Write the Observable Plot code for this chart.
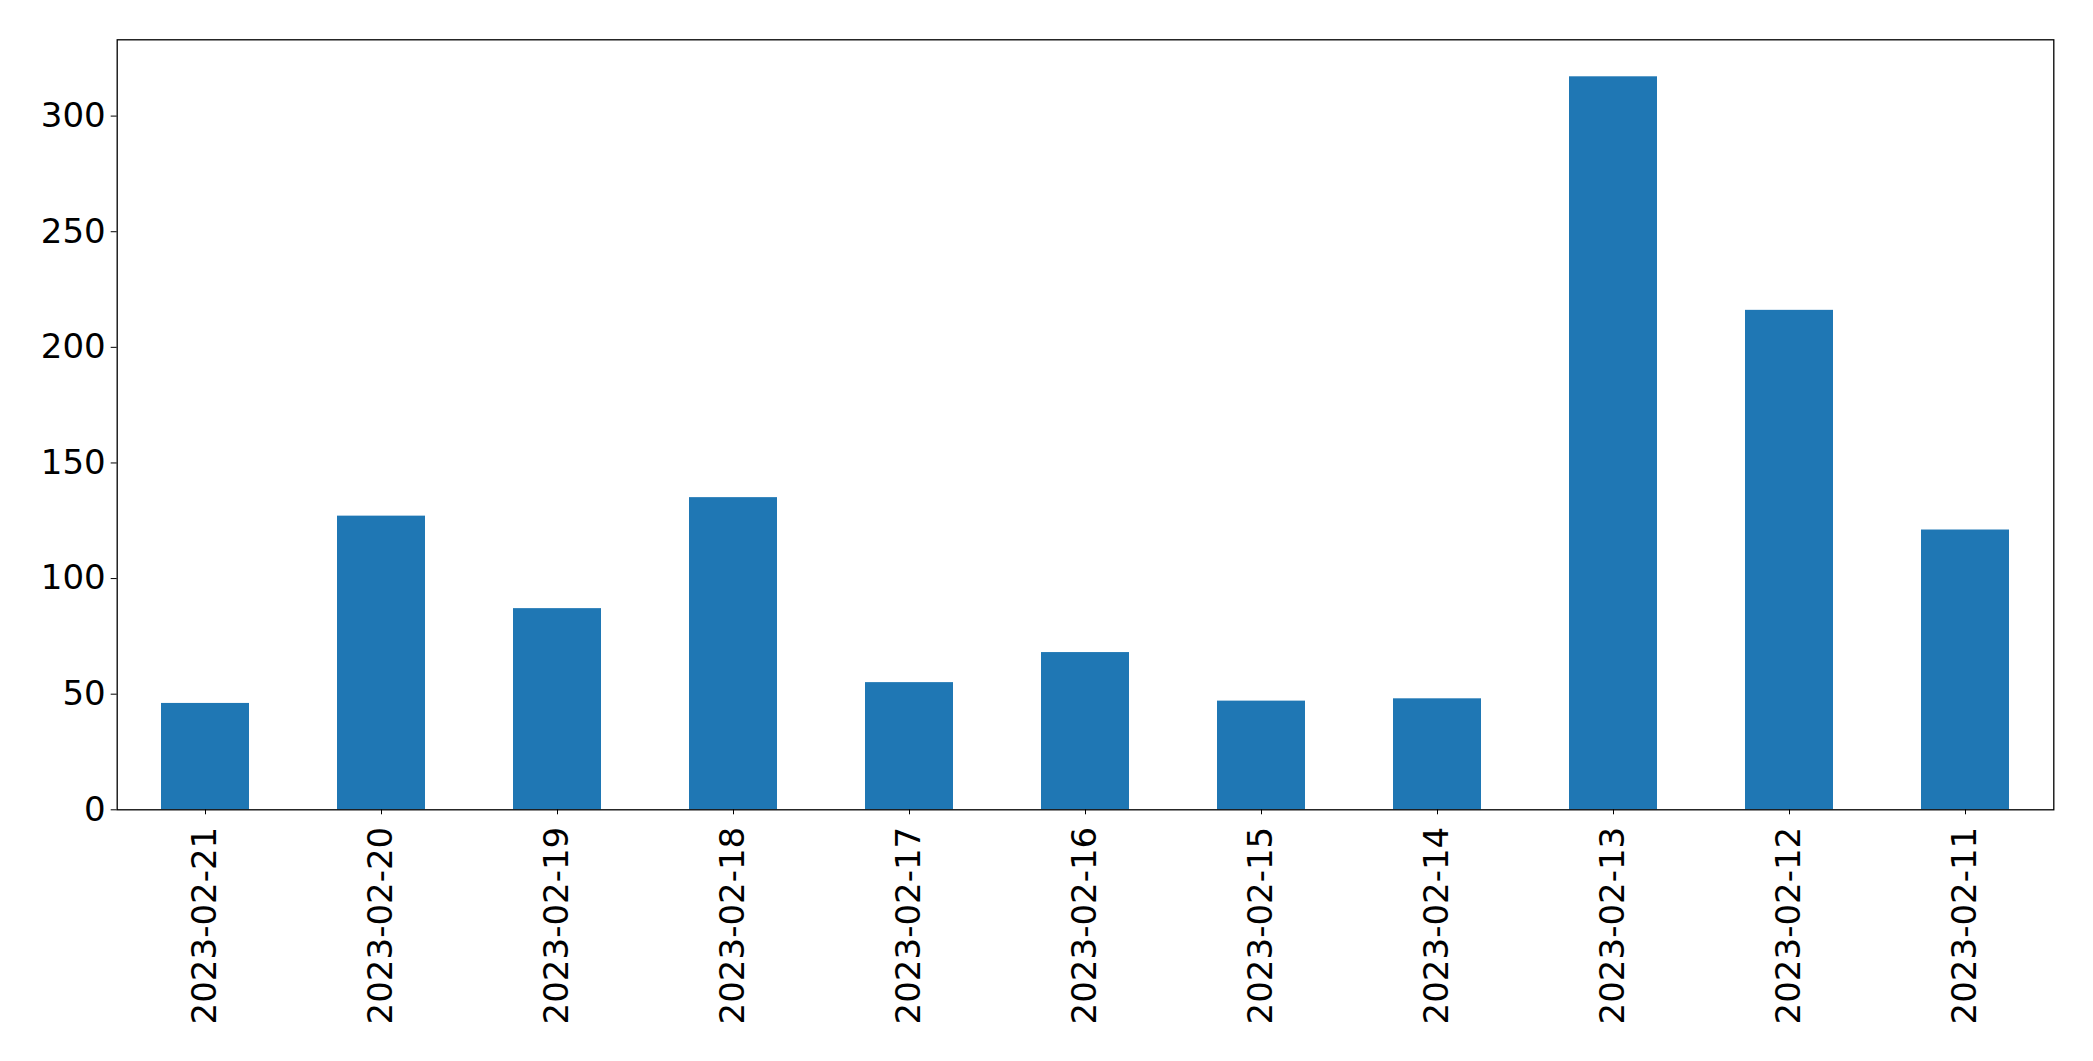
<!DOCTYPE html>
<html>
<head>
<meta charset="utf-8">
<script src="https://cdn.jsdelivr.net/npm/d3@7"></script>
<script src="https://cdn.jsdelivr.net/npm/@observablehq/plot@0.6"></script>
<style>
  html, body { margin: 0; padding: 0; background: white; }
  #chart svg { display: block; }
</style>
</head>
<body>
<div id="chart"></div>
<script>
const dates = ["2023-02-21", "2023-02-20", "2023-02-19", "2023-02-18", "2023-02-17", "2023-02-16", "2023-02-15", "2023-02-14", "2023-02-13", "2023-02-12", "2023-02-11"];
const counts = [46, 127, 87, 135, 55, 68, 47, 48, 317, 216, 121];
const yTicks = [0, 50, 100, 150, 200, 250, 300];

const data = dates.map((d, i) => ({date: d, count: counts[i]}));

const chart = Plot.plot({
  width: 2093,
  height: 1061,
  marginLeft: 116.7,
  marginRight: 39.7,
  marginTop: 39.3,
  marginBottom: 251.7,
  style: {fontFamily: "DejaVu Sans", fontSize: "34px", color: "black", background: "white"},
  x: {domain: dates, paddingInner: 0.5, paddingOuter: 0.25, label: null},
  y: {domain: [0, 333], label: null},
  marks: [
    Plot.barY(data, {x: "date", y: "count", fill: "#1f77b4"}),
    Plot.axisX({tickRotate: -90, tickSize: 5, tickPadding: 12, fontSize: 34, label: null, stroke: "black", strokeOpacity: 1}),
    Plot.axisY({ticks: yTicks, tickSize: 6, tickPadding: 5.5, fontSize: 34, label: null, tickFormat: d => String(d), strokeOpacity: 1}),
    Plot.frame({stroke: "black", strokeWidth: 1.3})
  ]
});
document.getElementById("chart").appendChild(chart);
</script>
</body>
</html>
